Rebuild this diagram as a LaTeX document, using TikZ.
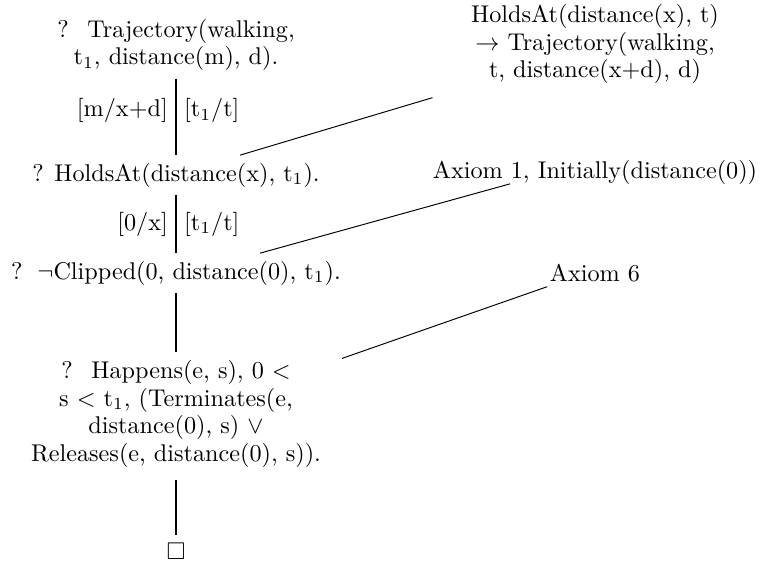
\documentclass[tikz,border=0pt]{standalone}
\usepackage{amssymb}
\usepackage{tikz}
\usetikzlibrary{calc}

\begin{document}
\begin{tikzpicture}[
  x=0.4132pt, y=-0.4132pt,
  goal/.style={align=center, inner sep=3pt, font=\fontsize{10}{11.5}\selectfont},
  axiom/.style={goal},
  subst/.style={inner sep=3pt},
  link/.style={thick},
  uses/.style={thin}
]
  \useasboundingbox (0,0) rectangle (761,562);

  % goals, top to bottom
  \node[goal] (g1) at (176,45) {? \ Trajectory(walking,\\ t$_1$, distance(m), d).};
  \node[goal] (g2) at (176,175) {? HoldsAt(distance(x), t$_1$).};
  \node[goal] (g3) at (176,273) {? \,$\neg$Clipped(0, distance(0), t$_1$).};
  \node[goal] (g4) at (176,414) {? \ Happens(e, s), 0 $<$\\ s $<$ t$_1$, (Terminates(e,\\ distance(0), s) $\vee$\\ Releases(e, distance(0), s)).};
  \node[goal] (g5) at (176,551) {$\Box$};

  % axioms used
  \node[axiom] (a1) at (595,44) {HoldsAt(distance(x), t)\\ $\rightarrow$ Trajectory(walking,\\ t, distance(x+d), d)};
  \node[axiom] (a2) at (595,172) {Axiom 1, Initially(distance(0))};
  \node[axiom] (a3) at (595,273) {Axiom 6};

  \draw[link] (g1) -- node[subst, left, pos=0.42] {[m/x+d]} node[subst, right, pos=0.42] {[t$_1$/t]} (g2);
  \draw[link] (g2) -- node[subst, left] {[0/x]} node[subst, right] {[t$_1$/t]} (g3);
  \draw[link] (g3) -- (g4);
  \draw[link] ($(g4.south)+(0,4)$) -- (g5);

  \draw[uses] ($(g2.north)+(64,0)$) -- ($(a1.south west)+(-31,6)$);
  \draw[uses] ($(g3.north)+(84,0)$) -- ($(a2.south)+(-85,-8)$);
  \draw[uses] ($(g4.north)+(166,6)$) -- ($(a3.south west)+(5,-3)$);
\end{tikzpicture}
\end{document}
